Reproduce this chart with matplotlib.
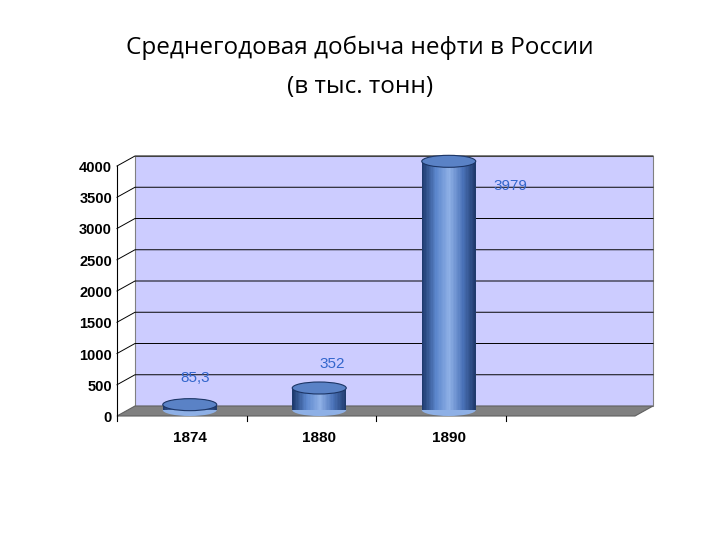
import matplotlib.pyplot as plt
import numpy as np
from matplotlib.patches import Polygon, Ellipse, Rectangle
from matplotlib.colors import LinearSegmentedColormap

years = ['1874', '1880', '1890']
values = [85.3, 352, 3979]
labels = ['85,3', '352', '3979']
yticks = [0, 500, 1000, 1500, 2000, 2500, 3000, 3500, 4000]

fig = plt.figure(figsize=(7.2, 5.4), dpi=100)
ax = fig.add_axes([0, 0, 1, 1])
ax.set_xlim(0, 720)
ax.set_ylim(540, 0)
ax.axis('off')

# pixel scale of the pseudo 3d plot
x0, x1 = 117, 635      # front left / front right
dx, dy = 18, -10       # depth offset
y_base = 416
h = 250 / 4000

def fy(v):
    return y_base - v * h

# back wall
ax.add_patch(Polygon([(x0 + dx, fy(0) + dy), (x1 + dx, fy(0) + dy),
                      (x1 + dx, fy(4000) + dy), (x0 + dx, fy(4000) + dy)],
                     closed=True, fc='#ccccff', ec='#808080', lw=0.8, zorder=1))
# floor
ax.add_patch(Polygon([(x0, fy(0)), (x1, fy(0)), (x1 + dx, fy(0) + dy), (x0 + dx, fy(0) + dy)],
                     closed=True, fc='#808080', ec='#606060', lw=0.8, zorder=2))

for t in yticks[1:]:
    ax.plot([x0, x0 + dx, x1 + dx], [fy(t), fy(t) + dy, fy(t) + dy], color='black', lw=0.7, zorder=1.5)
for t in yticks:
    ax.text(x0 - 5, fy(t) + 2, str(t), ha='right', va='center', fontsize=10.5,
            fontweight='bold', family='Liberation Sans')
ax.plot([x0, x0], [fy(0), fy(4000)], color='black', lw=0.8, zorder=2)
for i in range(4):
    xt = x0 + i * (x1 - x0) / 4
    ax.plot([xt, xt], [fy(0), fy(0) + 5], color='black', lw=0.8)

cmap = LinearSegmentedColormap.from_list('cyl', ['#1e3a6e', '#5b86cc', '#8fb0e6', '#4a72b8', '#1c3565'])
w = 54
floor_y = fy(0) - 6
for i, (yr, v, lab) in enumerate(zip(years, values, labels)):
    cx = x0 + (i + 0.5) * (x1 - x0) / 4
    bx = cx + 8
    top = floor_y - v * h
    n = 40
    xs = np.linspace(bx - w / 2, bx + w / 2, n + 1)
    for k in range(n):
        ax.add_patch(Rectangle((xs[k], top), xs[k + 1] - xs[k], floor_y - top,
                               fc=cmap(k / n), ec='none', zorder=3))
    ax.add_patch(Ellipse((bx, floor_y), w, 12, fc=cmap(0.5), ec='none', zorder=2.9))
    ax.add_patch(Ellipse((bx, top), w, 12, fc='#5a82c6', ec='#1c3565', lw=0.8, zorder=4))
    ax.text(cx + 8, fy(0) + 22, yr, ha='center', va='center', fontsize=11,
            fontweight='bold', family='Liberation Sans')

lab_pos = [(195, 378), (332, 364), (510, 186)]
for lab, (lx, ly) in zip(labels, lab_pos):
    ax.text(lx, ly, lab, ha='center', va='center', fontsize=11, color='#3366cc',
            family='Liberation Sans', zorder=5)

ax.text(360, 48, 'Среднегодовая добыча нефти в России', ha='center', va='center',
        fontsize=17.5, family='Open Sans')
ax.text(360, 87, '(в тыс. тонн)', ha='center', va='center', fontsize=17.5, family='Open Sans')

fig.savefig('out.png', dpi=100)
